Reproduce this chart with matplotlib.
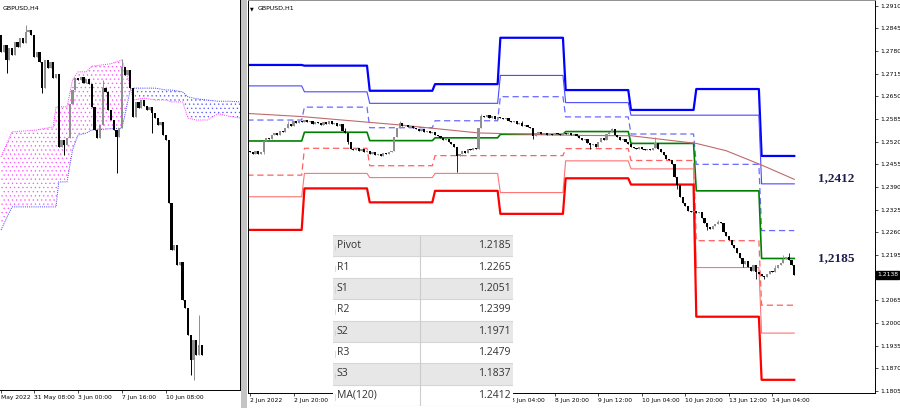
import numpy as np
import matplotlib.pyplot as plt
from matplotlib.patches import Rectangle

plt.rcParams['hatch.linewidth'] = 0.45

# ---------------- H4 panel (left) ----------------
h4_open0 = 1.2668
h4_close = [1.2641, 1.2652, 1.2628, 1.2647, 1.2636, 1.2657, 1.2649, 1.2663, 1.2655, 1.2673,
            1.2676, 1.2668, 1.2633, 1.2641, 1.2625, 1.2583, 1.2628, 1.2615, 1.2625, 1.2599,
            1.2606, 1.2489, 1.2500, 1.2492, 1.2503, 1.2558, 1.2580, 1.2599, 1.2596, 1.2601,
            1.2591, 1.2598, 1.2590, 1.2553, 1.2516, 1.2503, 1.2524, 1.2583, 1.2577, 1.2548,
            1.2532, 1.2516, 1.2505, 1.2519, 1.2617, 1.2604, 1.2612, 1.2583, 1.2537, 1.2561,
            1.2551, 1.2564, 1.2554, 1.2548, 1.2553, 1.2543, 1.2535, 1.2524, 1.2529, 1.2508,
            1.2500, 1.2399, 1.2324, 1.2332, 1.2300, 1.2305, 1.2244, 1.2231, 1.2188, 1.2148,
            1.2180, 1.2156, 1.2172, 1.2156]
h4_high = {9: 1.2684, 37: 1.2596, 44: 1.2630, 72: 1.2220}
h4_low = {2: 1.2607, 15: 1.2575, 23: 1.2476, 42: 1.2447, 55: 1.2511, 69: 1.2124, 70: 1.2116}

# Ichimoku cloud (Senkou span A / B)
cloud_idx = [0, 4, 13, 19, 20, 21, 24, 26, 28, 31, 33, 40, 44, 47, 48, 52, 56, 60, 62, 66,
             68, 71, 75, 79, 83, 87]
span_a = [1.2473, 1.2513, 1.2516, 1.2521, 1.2553, 1.2553, 1.2553, 1.2596, 1.2609, 1.2609,
          1.2618, 1.2622, 1.2628, 1.2588, 1.2564, 1.2567, 1.2564, 1.2564, 1.2561, 1.2561,
          1.2535, 1.2532, 1.2532, 1.2542, 1.2538, 1.2535]
span_b = [1.2356, 1.2393, 1.2393, 1.2393, 1.2393, 1.2433, 1.2433, 1.2484, 1.2508, 1.2511,
          1.2516, 1.2518, 1.2519, 1.2580, 1.2583, 1.2583, 1.2583, 1.2580, 1.2580, 1.2577,
          1.2569, 1.2566, 1.2564, 1.2562, 1.2562, 1.2561]

h4_ticks = [0, 12, 28, 44, 60]
h4_labels = ['May 2022', '31 May 08:00', '3 Jun 00:00', '7 Jun 16:00', '10 Jun 08:00']

# ---------------- H1 panel (right) ----------------
h1_open0 = 1.2492
h1_close = [1.2490, 1.2486, 1.2492, 1.2485, 1.2489,
            1.2522,
            1.2530, 1.2527, 1.2538, 1.2545, 1.2540, 1.2552, 1.2548, 1.2560, 1.2571, 1.2566,
            1.2578, 1.2573, 1.2580, 1.2576, 1.2582, 1.2575, 1.2579, 1.2572, 1.2577, 1.2574,
            1.2569, 1.2575, 1.2571, 1.2578, 1.2570, 1.2574, 1.2566, 1.2572,
            1.2552, 1.2545, 1.2520, 1.2500, 1.2496,
            1.2502, 1.2494, 1.2498, 1.2490, 1.2493, 1.2486, 1.2489, 1.2482, 1.2485, 1.2480,
            1.2487, 1.2484, 1.2490, 1.2494,
            1.2534, 1.2560, 1.2574, 1.2566,
            1.2568, 1.2561, 1.2565, 1.2558,
            1.2556, 1.2552, 1.2555, 1.2549, 1.2551, 1.2546, 1.2548, 1.2540,
            1.2535, 1.2530, 1.2524, 1.2527, 1.2519, 1.2514, 1.2505,
            1.2478, 1.2486,
            1.2493, 1.2488, 1.2498, 1.2495, 1.2503, 1.2500,
            1.2560, 1.2594,
            1.2590, 1.2596, 1.2588, 1.2593, 1.2586, 1.2592, 1.2589,
            1.2585, 1.2588, 1.2580, 1.2576, 1.2579, 1.2571, 1.2574, 1.2566, 1.2569, 1.2562, 1.2558,
            1.2535, 1.2545,
            1.2548, 1.2541, 1.2545, 1.2539, 1.2543, 1.2540, 1.2546, 1.2542, 1.2538, 1.2544,
            1.2541, 1.2545, 1.2539, 1.2543, 1.2537,
            1.2530, 1.2524, 1.2527, 1.2517, 1.2510, 1.2514, 1.2506,
            1.2518, 1.2530, 1.2526, 1.2541, 1.2549, 1.2555,
            1.2540, 1.2533, 1.2525, 1.2528, 1.2519,
            1.2512, 1.2506, 1.2503, 1.2500, 1.2505, 1.2498, 1.2496,
            1.2499, 1.2495, 1.2501, 1.2515,
            1.2500, 1.2490, 1.2482, 1.2470, 1.2466, 1.2455,
            1.2420, 1.2395,
            1.2360, 1.2345, 1.2335,
            1.2322, 1.2318, 1.2320, 1.2315, 1.2318,
            1.2300, 1.2288, 1.2276,
            1.2270, 1.2279, 1.2284, 1.2291, 1.2287,
            1.2262, 1.2250, 1.2238, 1.2225, 1.2214, 1.2200,
            1.2185, 1.2170, 1.2178, 1.2160, 1.2150, 1.2165, 1.2145, 1.2140,
            1.2135, 1.2132,
            1.2140, 1.2148, 1.2145, 1.2158, 1.2165, 1.2172, 1.2183, 1.2188,
            1.2180, 1.2165, 1.2138]
h1_high = {14: 1.2578, 35: 1.2560, 55: 1.2580, 85: 1.2600, 100: 1.2580, 133: 1.2560,
           149: 1.2533, 172: 1.2296, 193: 1.2165, 196: 1.2195, 198: 1.2200}
h1_low = {5: 1.2484, 36: 1.2512, 53: 1.2492, 76: 1.2434, 84: 1.2498, 104: 1.2527,
          125: 1.2500, 157: 1.2385, 168: 1.2268, 181: 1.2160, 186: 1.2125, 189: 1.2127}

# daily pivot levels (day start index in H1 bars)
day_start = [0, 20, 44, 68, 92, 116, 140, 164, 188]
r3 = [1.2740, 1.2738, 1.2666, 1.2685, 1.2818, 1.2668, 1.2611, 1.2671, 1.2479]
r2 = [1.2680, 1.2663, 1.2630, 1.2630, 1.2710, 1.2632, 1.2596, 1.2596, 1.2399]
r1 = [1.2582, 1.2619, 1.2560, 1.2580, 1.2649, 1.2591, 1.2542, 1.2455, 1.2265]
pivot = [1.2522, 1.2547, 1.2523, 1.2531, 1.2541, 1.2549, 1.2515, 1.2379, 1.2185]
s1 = [1.2424, 1.2501, 1.2451, 1.2480, 1.2480, 1.2500, 1.2466, 1.2236, 1.2051]
s2 = [1.2362, 1.2429, 1.2417, 1.2429, 1.2374, 1.2465, 1.2442, 1.2159, 1.1971]
s3 = [1.2267, 1.2386, 1.2346, 1.2379, 1.2313, 1.2415, 1.2397, 1.2018, 1.1837]

ma_idx = [-1, 19, 55, 84, 120, 140, 164, 175, 188, 200]
ma_val = [1.2601, 1.2592, 1.2568, 1.2545, 1.2538, 1.2537, 1.2515, 1.2494, 1.2453, 1.2412]

# time labels; the ones between 2 Jun 20:00 and 8 Jun 04:00 sit under the table
h1_ticks = [0, 16, 96, 112, 128, 144, 160, 176, 192]
h1_labels = ['2 Jun 2022', '2 Jun 20:00', '8 Jun 04:00', '8 Jun 20:00', '9 Jun 12:00',
             '10 Jun 04:00', '10 Jun 20:00', '13 Jun 12:00', '14 Jun 04:00']
price_labels = ['1.1805', '1.1870', '1.1935', '1.2000', '1.2065', '1.2130', '1.2195',
                '1.2260', '1.2325', '1.2390', '1.2455', '1.2520', '1.2585', '1.2650',
                '1.2715', '1.2780', '1.2845', '1.2910']
last_price = 1.2138

tbl_names = ['Pivot', 'R1', 'S1', 'R2', 'S2', 'R3', 'S3', 'MA(120)']
tbl_values = ['1.2185', '1.2265', '1.2051', '1.2399', '1.1971', '1.2479', '1.1837', '1.2412']


def draw_candles(ax, open0, closes, highs, lows, body_w, wick_lw):
    c = np.array(closes)
    o = np.concatenate([[open0], c[:-1]])
    hi = np.maximum(o, c)
    lo = np.minimum(o, c)
    for k, v in highs.items():
        hi[k] = v
    for k, v in lows.items():
        lo[k] = v
    x = np.arange(len(c))
    cols = np.where(c >= o, '#8f8f8f', 'black')
    ax.vlines(x, lo, hi, colors=cols, linewidth=wick_lw, zorder=4)
    ax.bar(x, c - o, bottom=o, width=body_w, color=cols, linewidth=0, zorder=4)


fig = plt.figure(figsize=(9, 4.08), dpi=100)

# left chart
axl = fig.add_axes([0, 18 / 408, 240 / 900, 390 / 408])
axl.set_xlim(-0.364, 86.9)
axl.set_ylim(1.2100, 1.2724)
ci = np.array(cloud_idx)
sa = np.array(span_a)
sb = np.array(span_b)
axl.fill_between(ci, sa, sb, where=sa >= sb, interpolate=True, facecolor='none',
                 edgecolor='#ff55ff', hatch='....', linewidth=0, zorder=1)
axl.fill_between(ci, sa, sb, where=sa < sb, interpolate=True, facecolor='none',
                 edgecolor='#5a5aff', hatch='....', linewidth=0, zorder=1)
axl.plot(ci, sa, color='#ff33ff', lw=0.7, ls=(0, (1, 1.2)), zorder=2)
axl.plot(ci, sb, color='#3c3cff', lw=0.7, ls=(0, (1, 1.2)), zorder=2)
draw_candles(axl, h4_open0, h4_close, h4_high, h4_low, 0.8, 0.7)
axl.set_xticks(h4_ticks)
axl.set_xticklabels(h4_labels, ha='left', fontsize=4.3)
axl.set_yticks([])
for s in ['top', 'left']:
    axl.spines[s].set_visible(False)
for s in ['right', 'bottom']:
    axl.spines[s].set_linewidth(0.7)
axl.tick_params(axis='x', length=2, width=0.5, pad=1.5)
axl.text(0.012, 0.985, 'GBPUSD,H4', transform=axl.transAxes, fontsize=4.5,
         va='top', ha='left')

# gray separator between the charts
fig.patches.append(Rectangle((241 / 900, 0), 6 / 900, 1, transform=fig.transFigure,
                             facecolor='#c4c4c4', edgecolor='none'))

# right chart
axr = fig.add_axes([248 / 900, 15 / 408, 627 / 900, 393 / 408])
axr.set_xlim(-0.733, 229.67)
axr.set_ylim(1.17992, 1.29263)

n_bars = len(h1_close)
xs = np.arange(-1, n_bars)
counts = np.diff(day_start + [n_bars])
counts[0] += 1
levels = [(r3, '#0000ff', 1.6, '-'), (r2, '#4848ff', 0.8, '-'), (r1, '#6a6aff', 0.9, (0, (5, 3))),
          (pivot, '#008000', 1.2, '-'), (s1, '#ff6060', 0.9, (0, (5, 3))),
          (s2, '#ff7373', 0.8, '-'), (s3, '#ff0000', 1.6, '-')]
for vals, col, lw, ls in levels:
    axr.plot(xs, np.repeat(vals, counts), color=col, lw=lw, ls=ls, zorder=2)
axr.plot(ma_idx, ma_val, color='#c06a6a', lw=0.8, zorder=2)
draw_candles(axr, h1_open0, h1_close, h1_high, h1_low, 0.8, 0.6)

axr.set_xticks(h1_ticks)
axr.set_xticklabels(h1_labels, ha='left', fontsize=4.3)
axr.yaxis.tick_right()
axr.set_yticks([float(v) for v in price_labels])
axr.set_yticklabels(price_labels, fontsize=4.3)
axr.tick_params(axis='both', length=2, width=0.5, pad=1.5)
axr.spines['top'].set_color('#909090')
for s in ['left', 'right', 'bottom', 'top']:
    axr.spines[s].set_linewidth(0.7)
axr.annotate(f'{last_price:.4f}', xy=(1, last_price), xycoords=('axes fraction', 'data'),
             xytext=(1.5, 0), textcoords='offset points', ha='left', va='center',
             fontsize=4.3, color='white', annotation_clip=False,
             bbox=dict(boxstyle='square,pad=0.2', fc='black', ec='black'))
axr.text(0.003, 0.985, '\u25bc', transform=axr.transAxes, fontsize=3.5, va='top', ha='left')
axr.text(0.016, 0.985, 'GBPUSD,H1', transform=axr.transAxes, fontsize=4.5, va='top', ha='left')

for val, txt_y in [(ma_val[-1], 1.2414), (pivot[-1], 1.2187)]:
    axr.text(215.5, txt_y, f'{val:.4f}'.replace('.', ','), fontsize=9.5, fontweight='bold',
             family='Liberation Serif', color='#1c1c50', ha='center', va='center')

# level table overlay
axt = fig.add_axes([333 / 900, 2 / 408, 180 / 900, 171 / 408], zorder=10)
axt.set_xlim(0, 1)
axt.set_ylim(0, len(tbl_names))
axt.axis('off')
for k, (name, val) in enumerate(zip(tbl_names, tbl_values)):
    y0 = len(tbl_names) - k - 1
    fc = '#e7e7e7' if k % 2 == 0 else 'white'
    axt.add_patch(Rectangle((0, y0), 1, 1, facecolor=fc, edgecolor='none'))
    axt.plot([0, 1], [y0, y0], color='#d6d6d6', lw=0.8)
    axt.plot([0.01, 0.01], [y0 + 0.3, y0 + 0.55], color='#e0c8a0', lw=0.5)
    axt.text(0.02, y0 + 0.5, name, fontsize=7.5, family='Open Sans', color='#333333',
             va='center', ha='left')
    axt.text(0.985, y0 + 0.5, val, fontsize=7.5, family='Open Sans', color='#333333',
             va='center', ha='right')
axt.plot([0.483, 0.483], [0, len(tbl_names)], color='#cccccc', lw=0.8)
axt.plot([0, 1], [len(tbl_names), len(tbl_names)], color='#d6d6d6', lw=0.8)

fig.savefig('out.png', dpi=100)
